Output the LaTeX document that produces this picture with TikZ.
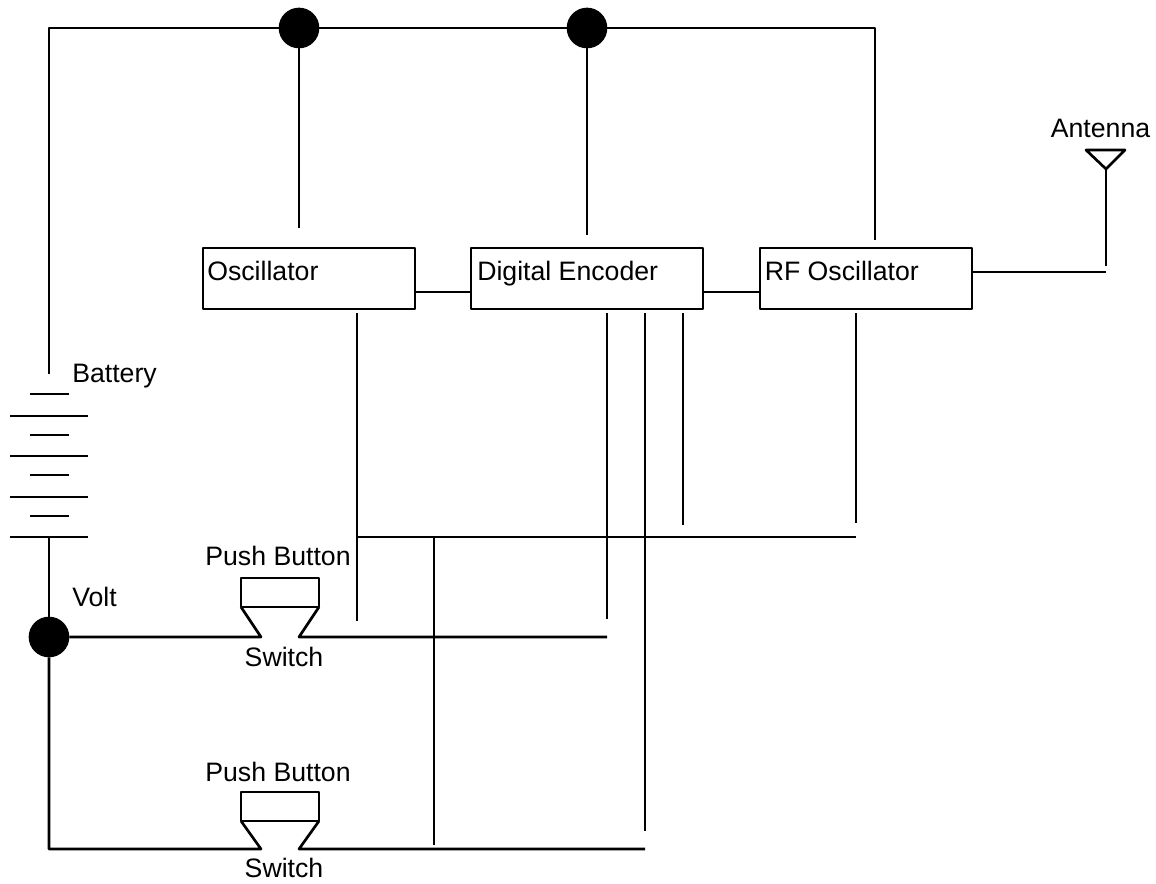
\documentclass[tikz,border=0pt]{standalone}
\usepackage{fontspec}
\setmainfont{Liberation Sans}
\tikzset{
  wire/.style={line width=2pt,line cap=butt,black},
  blockbox/.style={draw,line width=2pt,minimum height=45.75pt,inner sep=0pt,outer sep=0pt,anchor=north west},
  blocktext/.style={inner sep=0pt,anchor=base west,font=\fontsize{20}{22}\selectfont},
  lbl/.style={inner sep=0pt,anchor=base,font=\fontsize{20}{22}\selectfont},
  lblw/.style={inner sep=0pt,anchor=base west,font=\fontsize{20}{22}\selectfont},
  dot/.style={circle,fill=black,draw=none,minimum size=30.5pt,inner sep=0pt,outer sep=0pt},
  btn/.style={draw,line width=2pt,minimum width=58.5pt,minimum height=21.75pt,inner sep=0pt,outer sep=0pt}
}
\begin{document}
\begin{tikzpicture}[x=0.75pt,y=-0.75pt,line join=round]
\useasboundingbox[fill=white] (0,0) rectangle (1156,884);
% corners and free ends
\coordinate (tl) at (49,28);
\coordinate (tr) at (875,28);
\coordinate (batTop) at (49,374);
% junction dots
\node[dot] (d1) at (299,28) {};
\node[dot] (d2) at (587,28) {};
\node[dot] (d3) at (49,637) {};
% blocks
\node[blockbox,minimum width=159pt] (osc) at (203,248) {};
\node[blockbox,minimum width=174pt] (enc) at (471,248) {};
\node[blockbox,minimum width=159pt] (rf) at (760,248) {};
\node[blocktext] at (207,281) {Oscillator};
\node[blocktext] at (477,281) {Digital Encoder};
\node[blocktext] at (764.5,281) {RF Oscillator};
% top rail
\draw[wire] (batTop) -- (tl) -- (d1) -- (d2) -- (tr) -- (875,240);
\draw[wire] (d1) -- (299,228);
\draw[wire] (d2) -- (587,235);
% block links
\draw[wire] (415,292) -- (471,292);
\draw[wire] (703,292) -- (760,292);
% antenna
\coordinate (antBase) at (1106,266);
\coordinate (antTip) at (1106,169);
\draw[wire] (972,272) -- (1106,272);
\draw[wire] (antBase) -- (antTip);
\draw[wire] (1086,150) -- (1125,150) -- (antTip) -- cycle;
\node[lbl] (antl) at (1100.5,138) {Antenna};
% battery
\foreach \y/\a/\b in {394/30/69,416/10/88,435/30/69,456/10/88,475/30/69,497/10/88,516/30/69,537/10/88}
  \draw[wire] (\a,\y) -- (\b,\y);
\node[lblw] (batl) at (72,382) {Battery};
\node[lblw] (voltl) at (72,606) {Volt};
\coordinate (batBot) at (49,537);
\draw[wire] (batBot) -- (d3);
\coordinate (bl) at (49,849);
% buttons
\node[btn] (b1) at (280,592.5) {};
\node[btn] (b2) at (280,806.5) {};
\node[lbl] at (278,565) {Push Button};
\node[lbl] at (284,666) {Switch};
\node[lbl] at (278,781) {Push Button};
\node[lbl] at (284,877) {Switch};
% first switch
\coordinate (s1l) at (261,637);
\coordinate (s1r) at (299,637);
\coordinate (e1) at (607,637);
\draw[wire] (d3) -- (s1l) -- (b1.south west);
\draw[wire] (b1.south east) -- (s1r) -- (e1);
% second switch
\coordinate (s2l) at (261,849);
\coordinate (s2r) at (299,849);
\coordinate (e2) at (645,849);
\draw[wire] (d3) -- (bl) -- (s2l) -- (b2.south west);
\draw[wire] (b2.south east) -- (s2r) -- (e2);
% control lines
\draw[wire] (357,313) -- (357,621);
\draw[wire] (607,313) -- (607,619);
\draw[wire] (645,313) -- (645,831);
\draw[wire] (683,313) -- (683,525);
\draw[wire] (856,313) -- (856,523);
\draw[wire] (357,537) -- (856,537);
\draw[wire] (434,537) -- (434,845);
\end{tikzpicture}
\end{document}
